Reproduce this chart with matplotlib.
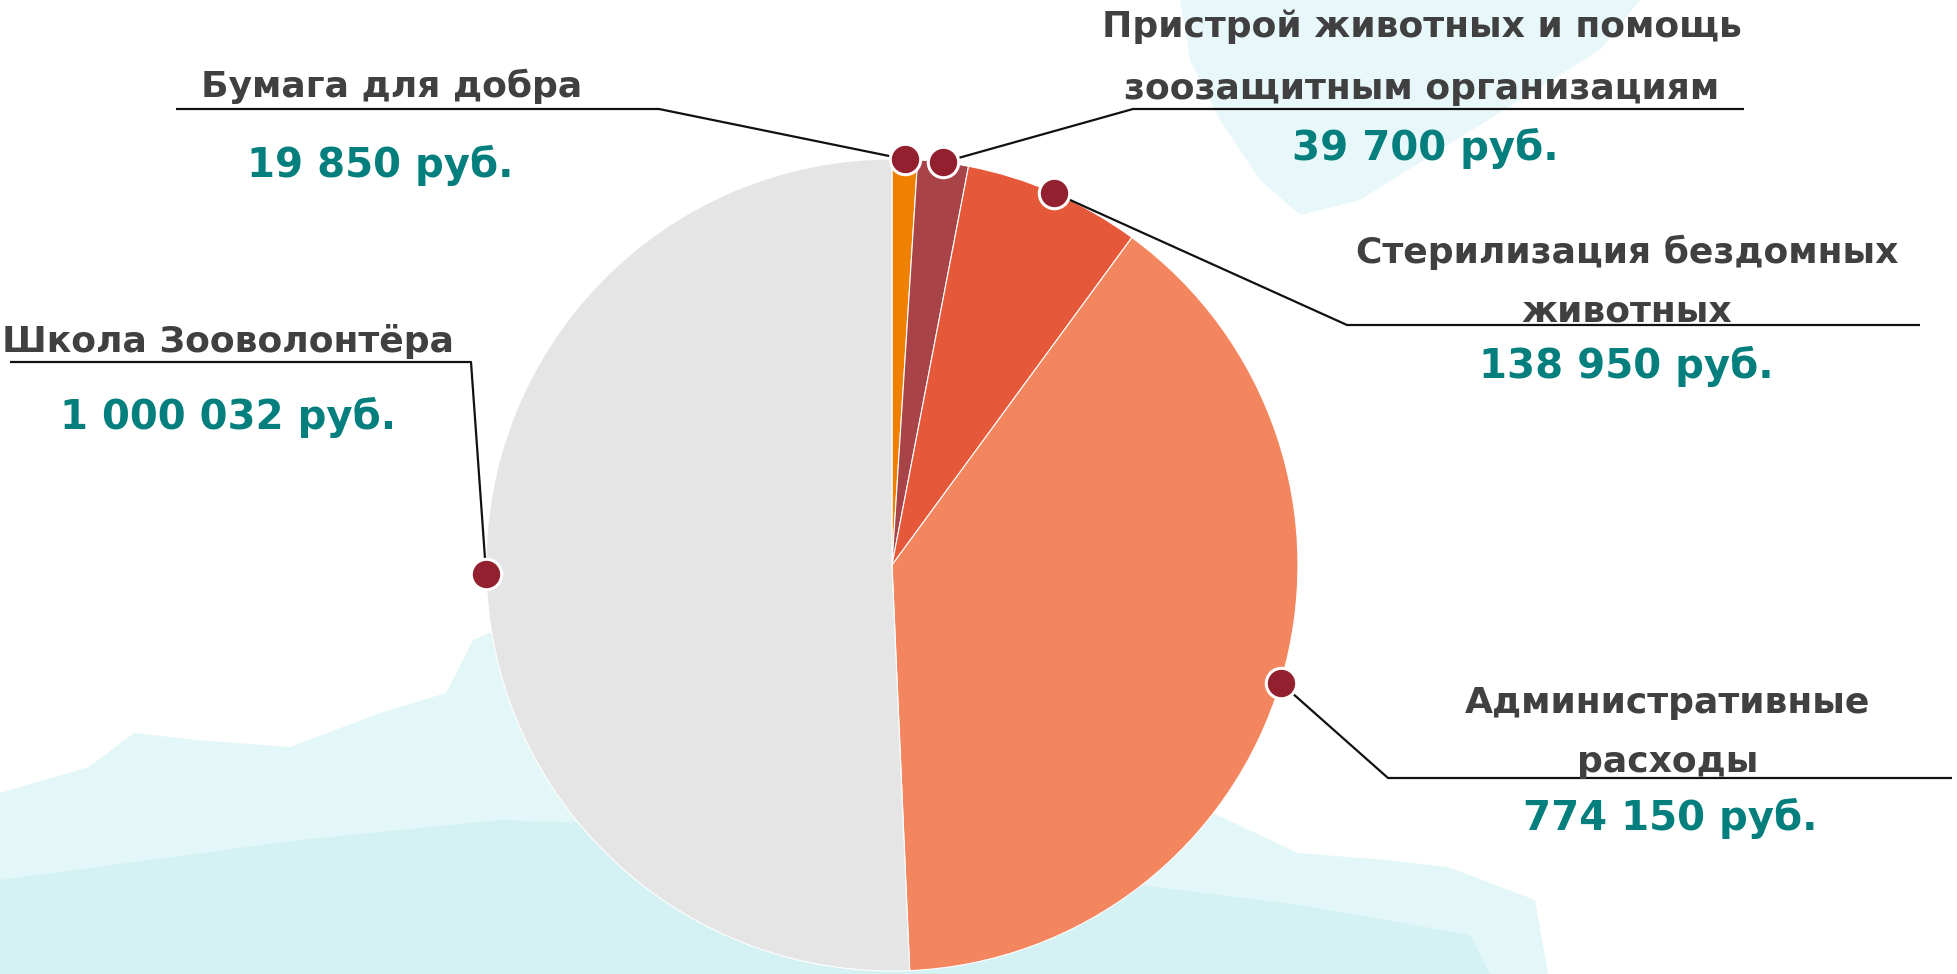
import matplotlib.pyplot as plt
from matplotlib.patches import Polygon
import numpy as np

# --- Data ---
labels = [
    "Бумага для добра",
    "Пристрой животных и помощь\nзоозащитным организациям",
    "Стерилизация бездомных\nживотных",
    "Административные\nрасходы",
    "Школа Зооволонтёра",
]
values = [19850, 39700, 138950, 774150, 1000032]
colors = ["#f08000", "#a84448", "#e5593a", "#f3865e", "#e5e5e5"]

# --- Layout (pixel coords, y down) ---
W, H = 1957, 974
CX, CY, R = 892, 565, 406
# label x, baselines of label lines, value x, value baseline, elbow point, end of horizontal line
label_x = [392, 1422, 1627, 1668, 228]
label_base = [[97], [37, 99], [263, 322], [713, 772], [352]]
value_x = [380, 1425, 1626, 1670, 228]
value_base = [177, 160, 378, 830, 429]
elbows = [(659, 109), (1133, 109), (1347, 325), (1388, 778), (471, 362)]
line_end = [176, 1744, 1920, 1952, 10]

TEXT_GREY = "#404040"
TEAL = "#047f7d"
DOT = "#93202f"

plt.rcParams['font.family'] = ['DejaVu Sans']

fig = plt.figure(figsize=(W / 100, H / 100), dpi=100)
ax = fig.add_axes([0, 0, 1, 1])

# watercolor-ish background washes
bg_bottom = [(0, 793), (89, 767), (134, 733), (196, 740), (290, 747), (380, 713),
             (446, 693), (473, 640), (489, 633), (700, 640), (1100, 760), (1298, 853),
             (1386, 860), (1448, 867), (1535, 900), (1548, 974), (0, 974)]
bg_bottom2 = [(0, 880), (150, 860), (300, 840), (500, 820), (800, 830), (1100, 880),
              (1300, 905), (1470, 935), (1490, 974), (0, 974)]
bg_top = [(1180, 0), (1640, 0), (1600, 50), (1520, 100), (1440, 150), (1360, 200),
          (1300, 215), (1260, 180), (1220, 120), (1190, 60)]
ax.add_patch(Polygon(bg_bottom, closed=True, facecolor="#e3f6f8", edgecolor="none", zorder=0))
ax.add_patch(Polygon(bg_bottom2, closed=True, facecolor="#d4f1f3", edgecolor="none", zorder=0))
ax.add_patch(Polygon(bg_top, closed=True, facecolor="#e8f7f9", edgecolor="none", zorder=0))

wedges, _ = ax.pie(values, colors=colors, startangle=-90, counterclock=True,
                   center=(CX, CY), radius=R,
                   wedgeprops=dict(edgecolor="white", linewidth=0.8, zorder=1))

for i, w in enumerate(wedges):
    mid = np.deg2rad((w.theta1 + w.theta2) / 2)
    dx = CX + R * np.cos(mid)
    dy = CY + R * np.sin(mid)
    ex, ey = elbows[i]
    ax.plot([dx, ex, line_end[i]], [dy, ey, ey], color="#111111", lw=1.6,
            solid_capstyle="butt", zorder=3)
    ax.scatter([dx], [dy], s=480, color=DOT, edgecolors="white", linewidths=2.2, zorder=4)

    for line, base in zip(labels[i].split("\n"), label_base[i]):
        ax.text(label_x[i], base, line, ha="center", va="baseline", fontsize=26,
                fontweight="bold", color=TEXT_GREY, zorder=5)
    val = f"{values[i]:,}".replace(",", " ") + " руб."
    ax.text(value_x[i], value_base[i], val, ha="center", va="baseline", fontsize=29,
            fontweight="bold", color=TEAL, zorder=5)

ax.set_xlim(0, W)
ax.set_ylim(H, 0)
ax.set_aspect("equal")
ax.axis("off")

fig.savefig("out.png", dpi=100, facecolor="white")
